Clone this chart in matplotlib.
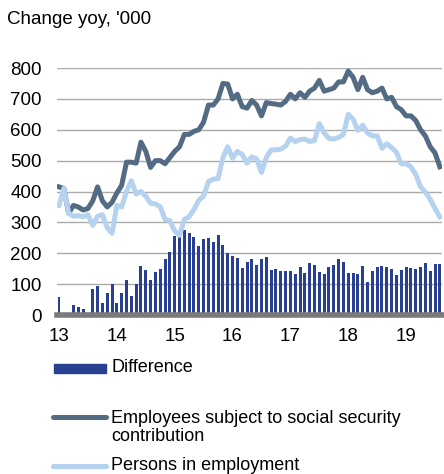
import numpy as np
import matplotlib
matplotlib.use("Agg")
import matplotlib.pyplot as plt
from matplotlib.lines import Line2D
from matplotlib.patches import Rectangle

plt.rcParams['font.family'] = ['Liberation Sans', 'DejaVu Sans']

# monthly data, Jan 2013 - Aug 2019
year_labels = ['13', '14', '15', '16', '17', '18', '19']

employees = [415, 410, 330, 355, 350, 340, 345, 370, 415, 370, 350, 365,
             395, 420, 495, 495, 492, 560, 530, 478, 500, 500, 490, 510,
             530, 545, 585, 585, 595, 600, 625, 680, 680, 700, 750, 748,
             700, 715, 675, 670, 695, 680, 645, 688, 685, 683, 680, 692,
             715, 700, 720, 705, 725, 735, 760, 725, 730, 735, 755, 755,
             790, 770, 730, 770, 730, 720, 725, 735, 700, 705, 675, 665,
             645, 645, 630, 600, 580, 545, 525, 480]

persons = [355, 410, 330, 320, 322, 318, 325, 290, 320, 325, 283, 265,
           355, 350, 400, 435, 392, 400, 385, 362, 360, 350, 310, 305,
           272, 258, 310, 318, 342, 372, 385, 432, 440, 442, 510, 545,
           508, 530, 520, 492, 512, 505, 462, 510, 535, 535, 537, 547,
           573, 562, 568, 570, 562, 565, 620, 590, 572, 570, 575, 585,
           650, 635, 598, 615, 590, 580, 580, 540, 555, 542, 527, 490,
           490, 480, 455, 415, 398, 375, 345, 318]

difference = [58, 0, 0, 33, 25, 20, 5, 83, 95, 40, 72, 100,
              40, 72, 112, 60, 100, 160, 147, 113, 140, 148, 183, 205,
              255, 260, 275, 265, 253, 225, 245, 248, 237, 258, 228, 200,
              192, 185, 153, 173, 182, 163, 183, 187, 147, 148, 143, 143,
              142, 133, 157, 135, 168, 163, 138, 133, 157, 163, 180, 172,
              137, 137, 133, 160, 107, 142, 157, 160, 155, 150, 130, 145,
              155, 152, 150, 155, 167, 142, 165, 165]

c_bar = '#283f92'
c_dark = '#546b84'
c_light = '#b5d2ee'
fs = 13.5

fig = plt.figure(figsize=(4.44, 4.74), dpi=100)
ax = fig.add_axes([0.128, 0.3354, 0.8675, 0.5211])

x = np.arange(len(employees))
ax.bar(x, difference, width=0.62, color=c_bar, zorder=2)
ax.plot(x, employees, color=c_dark, lw=3.6, zorder=3)
ax.plot(x, persons, color=c_light, lw=3.6, zorder=4)
ax.axhline(0, color='#7a7a7a', lw=4, zorder=5, clip_on=False)

ax.set_xlim(-0.45, 79.45)
ax.set_ylim(0, 800)
ax.set_yticks(range(0, 801, 100))
ax.set_xticks(range(0, 80, 12))
ax.set_xticklabels(year_labels)
ax.tick_params(length=0, labelsize=fs, colors='black')
ax.tick_params(axis='y', pad=11)
ax.tick_params(axis='x', pad=9)
ax.grid(axis='y', color='#ababab', lw=1, zorder=0)
for s in ax.spines.values():
    s.set_visible(False)

fig.text(7 / 444, 1 - 20 / 474, "Change yoy, '000", fontsize=fs, va='center', ha='left')

# legend
fig.add_artist(Rectangle((54 / 444, 1 - 373 / 474), 52 / 444, 9 / 474,
                         transform=fig.transFigure, color=c_bar))
fig.text(111 / 444, 1 - 368 / 474, 'Difference', fontsize=13, va='center')

fig.add_artist(Line2D([53 / 444, 106 / 444], [1 - 417 / 474] * 2, transform=fig.transFigure,
                      color=c_dark, lw=3.6, solid_capstyle='round'))
fig.text(111 / 444, 1 - 427.5 / 474, 'Employees subject to social security\ncontribution',
         fontsize=13, va='center', linespacing=1.12)

fig.add_artist(Line2D([53 / 444, 106 / 444], [1 - 466 / 474] * 2, transform=fig.transFigure,
                      color=c_light, lw=3.6, solid_capstyle='round'))
fig.text(111 / 444, 1 - 466 / 474, 'Persons in employment', fontsize=13, va='center')

fig.savefig('out.png', dpi=100)
